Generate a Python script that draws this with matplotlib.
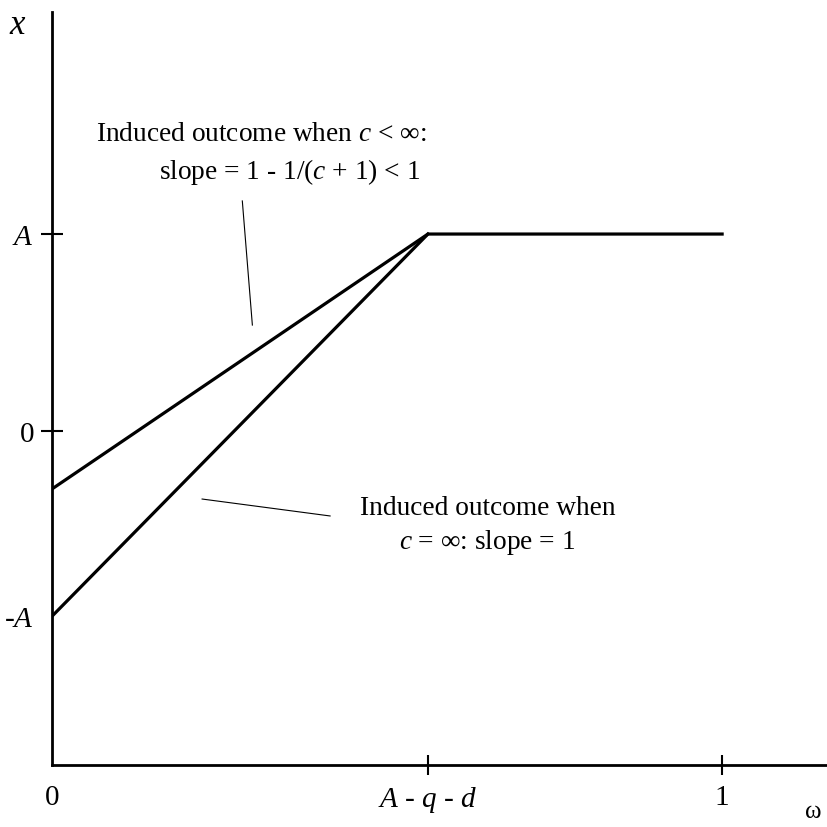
import numpy as np
import matplotlib
matplotlib.use("Agg")
import matplotlib.pyplot as plt

#--------config begin--------
# omega positions (0, A-q-d, 1) and outcome levels (A, 0, -A)
omega_ticks = [0.0, 0.561, 1.0]
omega_labels = ["0", "$A$ - $q$ - $d$", "1"]
x_ticks = [1.0, 0.0, -0.94]
x_labels = ["$A$", "0", "-$A$"]

# induced outcome curves
omega_shallow = [0.0, 0.561, 1.0]
x_shallow = [-0.294, 1.0, 1.0]
omega_steep = [0.0, 0.561]
x_steep = [-0.94, 1.0]
#--------config end--------

plt.rcParams["font.family"] = ["Liberation Serif", "DejaVu Serif"]
plt.rcParams["mathtext.fontset"] = "custom"
plt.rcParams["mathtext.rm"] = "Liberation Serif"
plt.rcParams["mathtext.it"] = "Liberation Serif:italic"
plt.rcParams["mathtext.cal"] = "Liberation Serif:italic"

fs = 21
fs_note = 19.7

fig = plt.figure(figsize=(8.28, 8.28), dpi=100)
ax = fig.add_axes([52/828, 62/828, 776/828, 753/828])

ax.plot(omega_shallow, x_shallow, color="black", lw=2.3, solid_joinstyle="miter")
ax.plot(omega_steep, x_steep, color="black", lw=2.3)

ax.set_xlim(0, 1.158)
ax.set_ylim(-1.695, 2.127)

for s in ["top", "right"]:
  ax.spines[s].set_visible(False)
for s in ["left", "bottom"]:
  ax.spines[s].set_linewidth(2.0)

ax.set_xticks(omega_ticks)
ax.set_xticklabels(omega_labels, fontsize=fs)
ax.set_yticks(x_ticks)
ax.set_yticklabels(x_labels, fontsize=fs)
ax.tick_params(axis="x", direction="inout", length=15, width=1.5, pad=6)
ax.tick_params(axis="y", direction="inout", length=16, width=1.5, pad=5)
# no tick marks at the origin and at -A, only labels
ax.xaxis.get_major_ticks()[0].tick1line.set_visible(False)
ax.yaxis.get_major_ticks()[2].tick1line.set_visible(False)

# axis names
fig.text(18/828, 1 - 25/828, "$x$", fontsize=25, ha="center", va="center")
fig.text(813/828, 1 - 812/828, "\u03c9", fontsize=18, ha="center", va="center")

# annotations
ax.text(0.312, 1.508, "Induced outcome when $c$ < \u221e:", fontsize=fs_note,
        ha="center", va="center")
ax.text(0.354, 1.320, "slope = 1 - 1/$(c$ + 1$)$ < 1", fontsize=fs_note,
        ha="center", va="center")
ax.plot([0.284, 0.299], [1.168, 0.538], color="black", lw=0.8)

ax.text(0.651, -0.386, "Induced outcome when", fontsize=fs_note,
        ha="center", va="center")
ax.text(0.649, -0.563, "$c$ = \u221e: slope = 1", fontsize=fs_note,
        ha="center", va="center")
ax.plot([0.224, 0.415], [-0.345, -0.431], color="black", lw=0.8)

plt.savefig("out.png", dpi=100)
